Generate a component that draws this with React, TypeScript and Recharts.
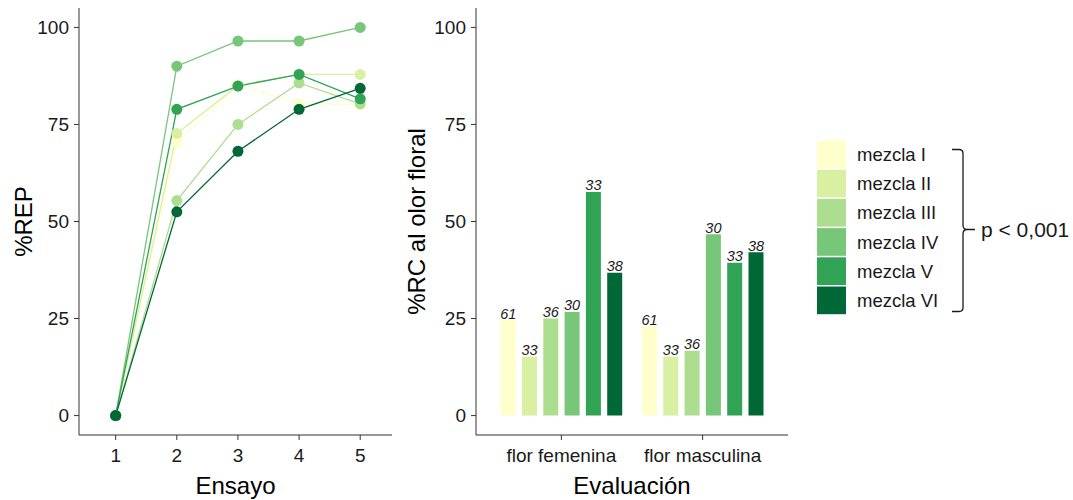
import React from 'react';
import {
  LineChart, Line, BarChart, Bar, XAxis, YAxis, LabelList,
} from 'recharts';

// Trial number (Ensayo) and %REP per mixture
const ensayos = [1, 2, 3, 4, 5];
const repI = [0, 70.4, 85.2, 80.4, 80.1];
const repII = [0, 72.7, 85.0, 87.9, 87.9];
const repIII = [0, 55.4, 75.0, 85.7, 80.3];
const repIV = [0, 90.0, 96.5, 96.5, 100];
const repV = [0, 78.9, 84.9, 87.9, 81.6];
const repVI = [0, 52.5, 68.1, 78.9, 84.3];

// Evaluation categories, %RC to the floral scent and sample sizes
const evaluaciones = ['flor femenina', 'flor masculina'];
const rcI = [24.6, 23.0];
const rcII = [15.2, 15.2];
const rcIII = [25.0, 16.7];
const rcIV = [26.7, 46.7];
const rcV = [57.6, 39.4];
const rcVI = [36.8, 42.1];
const nI = [61, 61];
const nII = [33, 33];
const nIII = [36, 36];
const nIV = [30, 30];
const nV = [33, 33];
const nVI = [38, 38];

const mezclas = ['mezcla I', 'mezcla II', 'mezcla III', 'mezcla IV', 'mezcla V', 'mezcla VI'];
const keys = ['I', 'II', 'III', 'IV', 'V', 'VI'];
const colors = ['#ffffcc', '#d9f0a3', '#addd8e', '#78c679', '#31a354', '#006837'];
const yTicks = [0, 25, 50, 75, 100];
const pText = 'p < 0,001';

const repSeries = [repI, repII, repIII, repIV, repV, repVI];
const rcSeries = [rcI, rcII, rcIII, rcIV, rcV, rcVI];
const nSeries = [nI, nII, nIII, nIV, nV, nVI];

const lineData = ensayos.map((e, i) => {
  const row: Record<string, number> = { ensayo: e };
  keys.forEach((k, s) => { row[k] = repSeries[s][i]; });
  return row;
});

const barData = evaluaciones.map((c, i) => {
  const row: Record<string, number | string> = { evaluacion: c };
  keys.forEach((k, s) => {
    row[k] = rcSeries[s][i];
    row['n' + k] = nSeries[s][i];
  });
  return row;
});

const FONT = 'Liberation Sans, Arial, sans-serif';
const axisColor = '#333333';
const tickStyle = { fontSize: 19, fill: '#1a1a1a', fontFamily: FONT };
const titleStyle = { fontSize: 24, fill: '#000000', fontFamily: FONT };

const NLabel = (props: any) => {
  const { x, y, width, value } = props;
  return (
    <text
      x={x + width / 2}
      y={y - 1.5}
      textAnchor="middle"
      fontStyle="italic"
      fontSize={14.5}
      fontFamily={FONT}
      fill="#1a1a1a"
    >
      {value}
    </text>
  );
};

export default function App() {
  return (
    <div style={{ position: 'absolute', left: 0, top: 0, width: 1073, height: 500, background: '#fff', fontFamily: FONT }}>
      <div style={{ position: 'absolute', left: 0, top: 0 }}>
        <LineChart width={400} height={500} data={lineData} margin={{ top: 8, right: 8, bottom: 0, left: 0 }}>
          <XAxis
            dataKey="ensayo"
            type="number"
            domain={[0.4, 5.52]}
            ticks={ensayos}
            allowDataOverflow
            height={65}
            stroke={axisColor}
            tickSize={5}
            tickMargin={9}
            tick={tickStyle}
            label={{ value: 'Ensayo', position: 'insideBottom', offset: 6, style: titleStyle }}
          />
          <YAxis
            type="number"
            domain={[-5, 105]}
            ticks={yTicks}
            allowDataOverflow
            width={79}
            stroke={axisColor}
            tickSize={5}
            tickMargin={5}
            tick={tickStyle}
            label={{ value: '%REP', angle: -90, position: 'insideLeft', offset: 23, style: { ...titleStyle, textAnchor: 'middle' } }}
          />
          {keys.map((k, s) => (
            <Line
              key={k}
              dataKey={k}
              type="linear"
              stroke={colors[s]}
              strokeWidth={1.3}
              dot={{ r: 5.5, fill: colors[s], stroke: 'none' }}
              activeDot={false}
              isAnimationActive={false}
            />
          ))}
        </LineChart>
      </div>

      <div style={{ position: 'absolute', left: 400, top: 0 }}>
        <BarChart
          width={400}
          height={500}
          data={barData}
          margin={{ top: 8, right: 12, bottom: 0, left: 0 }}
          barSize={15}
          barGap={6.3}
        >
          <XAxis
            dataKey="evaluacion"
            type="category"
            padding={{ left: 14.7, right: 14.7 }}
            height={65}
            stroke={axisColor}
            tickSize={5}
            tickMargin={9}
            tick={tickStyle}
            label={{ value: 'Evaluación', position: 'insideBottom', offset: 6, style: titleStyle }}
          />
          <YAxis
            type="number"
            domain={[-5, 105]}
            ticks={yTicks}
            allowDataOverflow
            width={76}
            stroke={axisColor}
            tickSize={5}
            tickMargin={5}
            tick={tickStyle}
            label={{ value: '%RC al olor floral', angle: -90, position: 'insideLeft', offset: 16, style: { ...titleStyle, textAnchor: 'middle' } }}
          />
          {keys.map((k, s) => (
            <Bar key={k} dataKey={k} fill={colors[s]} isAnimationActive={false}>
              <LabelList dataKey={'n' + k} content={NLabel} />
            </Bar>
          ))}
        </BarChart>
      </div>

      <svg width={1073} height={500} style={{ position: 'absolute', left: 0, top: 0, pointerEvents: 'none' }}>
        {mezclas.map((m, i) => (
          <g key={m}>
            <rect x={817} y={140.5 + i * 29.2} width={29} height={27.7} fill={colors[i]} />
            <text x={857} y={154.4 + i * 29.2} dy="0.355em" fontSize={18.5} fontFamily={FONT} fill="#1a1a1a">{m}</text>
          </g>
        ))}
        <path
          d="M952,149.5 L959,149.5 Q963,149.5 963,153.5 L963,225 Q963,229.5 967,229.5 L975,229.5 M967,229.5 Q963,229.5 963,234 L963,307.5 Q963,311.5 959,311.5 L952,311.5"
          fill="none"
          stroke="#1a1a1a"
          strokeWidth={1.3}
        />
        <text x={981} y={230} dy="0.355em" fontSize={21} fontFamily={FONT} fill="#1a1a1a">{pText}</text>
      </svg>
    </div>
  );
}
